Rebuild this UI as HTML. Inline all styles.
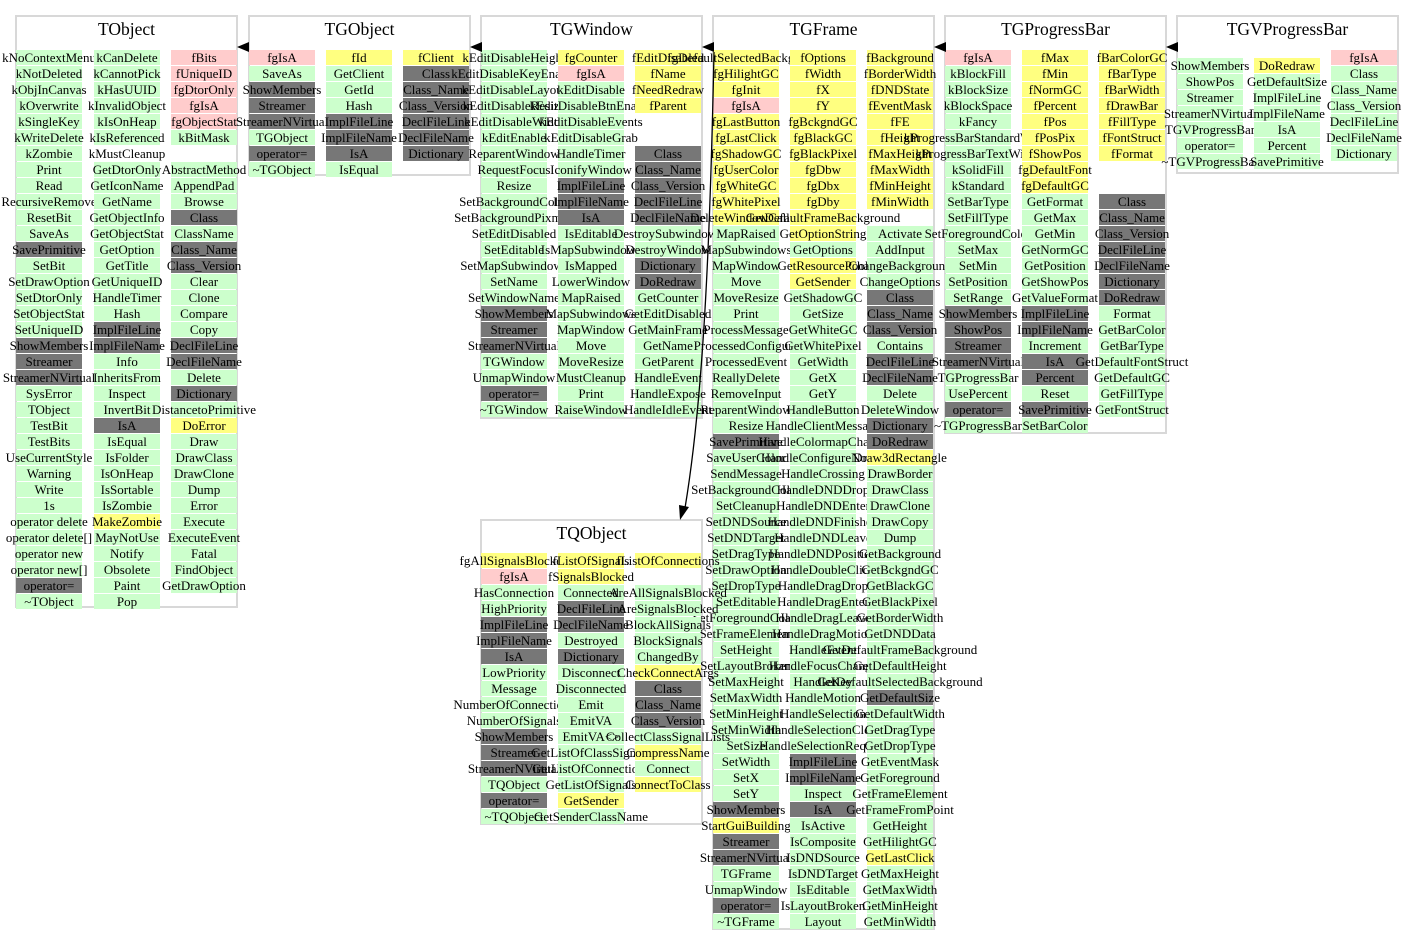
<!DOCTYPE html>
<html><head><meta charset="utf-8"><style>
body{margin:0;width:1413px;height:944px;background:#fff;position:relative;overflow:hidden;font-family:"Liberation Serif",serif}
.b{position:absolute;border:2px solid #d8d8d8;box-sizing:border-box;width:223px}
.t{position:absolute;width:223px;text-align:center;font:17.5px "Liberation Serif",serif;color:#000}
.c{position:absolute;width:66px}
.c>div{height:15px;margin-bottom:1px;display:flex;justify-content:center;align-items:center;white-space:nowrap;font:13px/15px "Liberation Serif",serif;color:#000}
.g{background:#ccffcc}.p{background:#ffcccc}.y{background:#ffff80}.d{background:#777}
svg{position:absolute;left:0;top:0}
</style></head><body>

<div class="b" style="left:15px;top:15px;height:593px"></div><div class="t" style="left:15px;top:19px">TObject</div>
<div class="b" style="left:248px;top:15px;height:161px"></div><div class="t" style="left:248px;top:19px">TGObject</div>
<div class="b" style="left:480px;top:15px;height:404px"></div><div class="t" style="left:480px;top:19px">TGWindow</div>
<div class="b" style="left:712px;top:15px;height:915px"></div><div class="t" style="left:712px;top:19px">TGFrame</div>
<div class="b" style="left:944px;top:15px;height:419px"></div><div class="t" style="left:944px;top:19px">TGProgressBar</div>
<div class="b" style="left:1176px;top:15px;height:159px"></div><div class="t" style="left:1176px;top:19px">TGVProgressBar</div>
<div class="b" style="left:480px;top:519px;height:306px"></div><div class="t" style="left:480px;top:523px">TQObject</div>

<!-- TObject -->
<div class="c" style="left:16px;top:50px"><div class="g">kNoContextMenu</div><div class="g">kNotDeleted</div><div class="g">kObjInCanvas</div><div class="g">kOverwrite</div><div class="g">kSingleKey</div><div class="g">kWriteDelete</div><div class="g">kZombie</div><div class="g">Print</div><div class="g">Read</div><div class="g">RecursiveRemove</div><div class="g">ResetBit</div><div class="g">SaveAs</div><div class="d">SavePrimitive</div><div class="g">SetBit</div><div class="g">SetDrawOption</div><div class="g">SetDtorOnly</div><div class="g">SetObjectStat</div><div class="g">SetUniqueID</div><div class="d">ShowMembers</div><div class="d">Streamer</div><div class="d">StreamerNVirtual</div><div class="g">SysError</div><div class="g">TObject</div><div class="g">TestBit</div><div class="g">TestBits</div><div class="g">UseCurrentStyle</div><div class="g">Warning</div><div class="g">Write</div><div class="g">1s</div><div class="g">operator delete</div><div class="g">operator delete[]</div><div class="g">operator new</div><div class="g">operator new[]</div><div class="d">operator=</div><div class="g">~TObject</div></div>
<div class="c" style="left:94px;top:50px"><div class="g">kCanDelete</div><div class="g">kCannotPick</div><div class="g">kHasUUID</div><div class="g">kInvalidObject</div><div class="g">kIsOnHeap</div><div class="g">kIsReferenced</div><div>kMustCleanup</div><div class="g">GetDtorOnly</div><div class="g">GetIconName</div><div class="g">GetName</div><div class="g">GetObjectInfo</div><div class="g">GetObjectStat</div><div class="g">GetOption</div><div class="g">GetTitle</div><div class="g">GetUniqueID</div><div class="g">HandleTimer</div><div class="g">Hash</div><div class="d">ImplFileLine</div><div class="d">ImplFileName</div><div class="g">Info</div><div class="g">InheritsFrom</div><div class="g">Inspect</div><div class="g">InvertBit</div><div class="d">IsA</div><div class="g">IsEqual</div><div class="g">IsFolder</div><div class="g">IsOnHeap</div><div class="g">IsSortable</div><div class="g">IsZombie</div><div class="y">MakeZombie</div><div class="g">MayNotUse</div><div class="g">Notify</div><div class="g">Obsolete</div><div class="g">Paint</div><div class="g">Pop</div></div>
<div class="c" style="left:171px;top:50px"><div class="p">fBits</div><div class="p">fUniqueID</div><div class="p">fgDtorOnly</div><div class="p">fgIsA</div><div class="p">fgObjectStat</div><div class="g">kBitMask</div><div></div><div class="g">AbstractMethod</div><div class="g">AppendPad</div><div class="g">Browse</div><div class="d">Class</div><div class="g">ClassName</div><div class="d">Class_Name</div><div class="d">Class_Version</div><div class="g">Clear</div><div class="g">Clone</div><div class="g">Compare</div><div class="g">Copy</div><div class="d">DeclFileLine</div><div class="d">DeclFileName</div><div class="g">Delete</div><div class="d">Dictionary</div><div class="g">DistancetoPrimitive</div><div class="y">DoError</div><div class="g">Draw</div><div class="g">DrawClass</div><div class="g">DrawClone</div><div class="g">Dump</div><div class="g">Error</div><div class="g">Execute</div><div class="g">ExecuteEvent</div><div class="g">Fatal</div><div class="g">FindObject</div><div class="g">GetDrawOption</div></div>

<!-- TGObject -->
<div class="c" style="left:249px;top:50px"><div class="p">fgIsA</div><div class="g">SaveAs</div><div class="d">ShowMembers</div><div class="d">Streamer</div><div class="d">StreamerNVirtual</div><div class="g">TGObject</div><div class="d">operator=</div><div class="g">~TGObject</div></div>
<div class="c" style="left:326px;top:50px"><div class="y">fId</div><div class="g">GetClient</div><div class="g">GetId</div><div class="g">Hash</div><div class="d">ImplFileLine</div><div class="d">ImplFileName</div><div class="d">IsA</div><div class="g">IsEqual</div></div>
<div class="c" style="left:403px;top:50px"><div class="y">fClient</div><div class="d">Class</div><div class="d">Class_Name</div><div class="d">Class_Version</div><div class="d">DeclFileLine</div><div class="d">DeclFileName</div><div class="d">Dictionary</div></div>

<!-- TGWindow -->
<div class="c" style="left:481px;top:50px"><div class="g">kEditDisableHeight</div><div class="g">kEditDisableKeyEnable</div><div class="g">kEditDisableLayout</div><div class="g">kEditDisableResize</div><div class="g">kEditDisableWidth</div><div class="g">kEditEnable</div><div class="g">ReparentWindow</div><div class="g">RequestFocus</div><div class="g">Resize</div><div class="g">SetBackgroundColor</div><div class="g">SetBackgroundPixmap</div><div class="g">SetEditDisabled</div><div class="g">SetEditable</div><div class="g">SetMapSubwindows</div><div class="g">SetName</div><div class="g">SetWindowName</div><div class="d">ShowMembers</div><div class="d">Streamer</div><div class="d">StreamerNVirtual</div><div class="g">TGWindow</div><div class="g">UnmapWindow</div><div class="d">operator=</div><div class="g">~TGWindow</div></div>
<div class="c" style="left:558px;top:50px"><div class="y">fgCounter</div><div class="p">fgIsA</div><div class="g">kEditDisable</div><div class="g">kEditDisableBtnEnable</div><div class="g">kEditDisableEvents</div><div class="g">kEditDisableGrab</div><div class="g">HandleTimer</div><div class="g">IconifyWindow</div><div class="d">ImplFileLine</div><div class="d">ImplFileName</div><div class="d">IsA</div><div class="g">IsEditable</div><div class="g">IsMapSubwindows</div><div class="g">IsMapped</div><div class="g">LowerWindow</div><div class="g">MapRaised</div><div class="g">MapSubwindows</div><div class="g">MapWindow</div><div class="g">Move</div><div class="g">MoveResize</div><div class="g">MustCleanup</div><div class="g">Print</div><div class="g">RaiseWindow</div></div>
<div class="c" style="left:635px;top:50px"><div class="y">fEditDisabled</div><div class="y">fName</div><div class="y">fNeedRedraw</div><div class="y">fParent</div><div></div><div></div><div class="d">Class</div><div class="d">Class_Name</div><div class="d">Class_Version</div><div class="d">DeclFileLine</div><div class="d">DeclFileName</div><div class="g">DestroySubwindows</div><div class="g">DestroyWindow</div><div class="d">Dictionary</div><div class="d">DoRedraw</div><div class="g">GetCounter</div><div class="g">GetEditDisabled</div><div class="g">GetMainFrame</div><div class="g">GetName</div><div class="g">GetParent</div><div class="g">HandleEvent</div><div class="g">HandleExpose</div><div class="g">HandleIdleEvent</div></div>

<!-- TGFrame -->
<div class="c" style="left:713px;top:50px"><div class="y">fgDefaultSelectedBackground</div><div class="y">fgHilightGC</div><div class="y">fgInit</div><div class="p">fgIsA</div><div class="y">fgLastButton</div><div class="y">fgLastClick</div><div class="y">fgShadowGC</div><div class="y">fgUserColor</div><div class="y">fgWhiteGC</div><div class="y">fgWhitePixel</div><div class="y">DeleteWindowCalled</div><div class="g">MapRaised</div><div class="g">MapSubwindows</div><div class="g">MapWindow</div><div class="g">Move</div><div class="g">MoveResize</div><div class="g">Print</div><div class="g">ProcessMessage</div><div class="g">ProcessedConfigure</div><div class="g">ProcessedEvent</div><div class="g">ReallyDelete</div><div class="g">RemoveInput</div><div class="g">ReparentWindow</div><div class="g">Resize</div><div class="d">SavePrimitive</div><div class="g">SaveUserColor</div><div class="g">SendMessage</div><div class="g">SetBackgroundColor</div><div class="g">SetCleanup</div><div class="g">SetDNDSource</div><div class="g">SetDNDTarget</div><div class="g">SetDragType</div><div class="g">SetDrawOption</div><div class="g">SetDropType</div><div class="g">SetEditable</div><div class="g">SetForegroundColor</div><div class="g">SetFrameElement</div><div class="g">SetHeight</div><div class="g">SetLayoutBroken</div><div class="g">SetMaxHeight</div><div class="g">SetMaxWidth</div><div class="g">SetMinHeight</div><div class="g">SetMinWidth</div><div class="g">SetSize</div><div class="g">SetWidth</div><div class="g">SetX</div><div class="g">SetY</div><div class="d">ShowMembers</div><div class="y">StartGuiBuilding</div><div class="d">Streamer</div><div class="d">StreamerNVirtual</div><div class="g">TGFrame</div><div class="g">UnmapWindow</div><div class="d">operator=</div><div class="g">~TGFrame</div></div>
<div class="c" style="left:790px;top:50px"><div class="y">fOptions</div><div class="y">fWidth</div><div class="y">fX</div><div class="y">fY</div><div class="y">fgBckgndGC</div><div class="y">fgBlackGC</div><div class="y">fgBlackPixel</div><div class="y">fgDbw</div><div class="y">fgDbx</div><div class="y">fgDby</div><div class="y">GetDefaultFrameBackground</div><div class="y">GetOptionString</div><div class="g">GetOptions</div><div class="y">GetResourcePool</div><div class="y">GetSender</div><div class="g">GetShadowGC</div><div class="g">GetSize</div><div class="g">GetWhiteGC</div><div class="g">GetWhitePixel</div><div class="g">GetWidth</div><div class="g">GetX</div><div class="g">GetY</div><div class="g">HandleButton</div><div class="g">HandleClientMessage</div><div class="g">HandleColormapChange</div><div class="g">HandleConfigureNotify</div><div class="g">HandleCrossing</div><div class="g">HandleDNDDrop</div><div class="g">HandleDNDEnter</div><div class="g">HandleDNDFinished</div><div class="g">HandleDNDLeave</div><div class="g">HandleDNDPosition</div><div class="g">HandleDoubleClick</div><div class="g">HandleDragDrop</div><div class="g">HandleDragEnter</div><div class="g">HandleDragLeave</div><div class="g">HandleDragMotion</div><div class="g">HandleEvent</div><div class="g">HandleFocusChange</div><div class="g">HandleKey</div><div class="g">HandleMotion</div><div class="g">HandleSelection</div><div class="g">HandleSelectionClear</div><div class="g">HandleSelectionRequest</div><div class="d">ImplFileLine</div><div class="d">ImplFileName</div><div class="g">Inspect</div><div class="d">IsA</div><div class="g">IsActive</div><div class="g">IsComposite</div><div class="g">IsDNDSource</div><div class="g">IsDNDTarget</div><div class="g">IsEditable</div><div class="g">IsLayoutBroken</div><div class="g">Layout</div></div>
<div class="c" style="left:867px;top:50px"><div class="y">fBackground</div><div class="y">fBorderWidth</div><div class="y">fDNDState</div><div class="y">fEventMask</div><div class="y">fFE</div><div class="y">fHeight</div><div class="y">fMaxHeight</div><div class="y">fMaxWidth</div><div class="y">fMinHeight</div><div class="y">fMinWidth</div><div></div><div class="g">Activate</div><div class="g">AddInput</div><div class="g">ChangeBackground</div><div class="g">ChangeOptions</div><div class="d">Class</div><div class="d">Class_Name</div><div class="d">Class_Version</div><div class="g">Contains</div><div class="d">DeclFileLine</div><div class="d">DeclFileName</div><div class="g">Delete</div><div class="g">DeleteWindow</div><div class="d">Dictionary</div><div class="d">DoRedraw</div><div class="y">Draw3dRectangle</div><div class="g">DrawBorder</div><div class="g">DrawClass</div><div class="g">DrawClone</div><div class="g">DrawCopy</div><div class="g">Dump</div><div class="g">GetBackground</div><div class="g">GetBckgndGC</div><div class="g">GetBlackGC</div><div class="g">GetBlackPixel</div><div class="g">GetBorderWidth</div><div class="g">GetDNDData</div><div class="g">GetDefaultFrameBackground</div><div class="g">GetDefaultHeight</div><div class="g">GetDefaultSelectedBackground</div><div class="d">GetDefaultSize</div><div class="g">GetDefaultWidth</div><div class="g">GetDragType</div><div class="g">GetDropType</div><div class="g">GetEventMask</div><div class="g">GetForeground</div><div class="g">GetFrameElement</div><div class="g">GetFrameFromPoint</div><div class="g">GetHeight</div><div class="g">GetHilightGC</div><div class="y">GetLastClick</div><div class="g">GetMaxHeight</div><div class="g">GetMaxWidth</div><div class="g">GetMinHeight</div><div class="g">GetMinWidth</div></div>

<!-- TGProgressBar -->
<div class="c" style="left:945px;top:50px"><div class="p">fgIsA</div><div class="g">kBlockFill</div><div class="g">kBlockSize</div><div class="g">kBlockSpace</div><div class="g">kFancy</div><div class="g">kProgressBarStandardWidth</div><div class="g">kProgressBarTextWidth</div><div class="g">kSolidFill</div><div class="g">kStandard</div><div class="g">SetBarType</div><div class="g">SetFillType</div><div class="g">SetForegroundColor</div><div class="g">SetMax</div><div class="g">SetMin</div><div class="g">SetPosition</div><div class="g">SetRange</div><div class="d">ShowMembers</div><div class="d">ShowPos</div><div class="d">Streamer</div><div class="d">StreamerNVirtual</div><div class="g">TGProgressBar</div><div class="g">UsePercent</div><div class="d">operator=</div><div class="g">~TGProgressBar</div></div>
<div class="c" style="left:1022px;top:50px"><div class="y">fMax</div><div class="y">fMin</div><div class="y">fNormGC</div><div class="y">fPercent</div><div class="y">fPos</div><div class="y">fPosPix</div><div class="y">fShowPos</div><div class="y">fgDefaultFont</div><div class="y">fgDefaultGC</div><div class="g">GetFormat</div><div class="g">GetMax</div><div class="g">GetMin</div><div class="g">GetNormGC</div><div class="g">GetPosition</div><div class="g">GetShowPos</div><div class="g">GetValueFormat</div><div class="d">ImplFileLine</div><div class="d">ImplFileName</div><div class="g">Increment</div><div class="d">IsA</div><div class="d">Percent</div><div class="g">Reset</div><div class="d">SavePrimitive</div><div class="g">SetBarColor</div></div>
<div class="c" style="left:1099px;top:50px"><div class="y">fBarColorGC</div><div class="y">fBarType</div><div class="y">fBarWidth</div><div class="y">fDrawBar</div><div class="y">fFillType</div><div class="y">fFontStruct</div><div class="y">fFormat</div><div></div><div></div><div class="d">Class</div><div class="d">Class_Name</div><div class="d">Class_Version</div><div class="d">DeclFileLine</div><div class="d">DeclFileName</div><div class="d">Dictionary</div><div class="d">DoRedraw</div><div class="g">Format</div><div class="g">GetBarColor</div><div class="g">GetBarType</div><div class="g">GetDefaultFontStruct</div><div class="g">GetDefaultGC</div><div class="g">GetFillType</div><div class="g">GetFontStruct</div></div>

<!-- TGVProgressBar -->
<div class="c" style="left:1177px;top:58px"><div class="g">ShowMembers</div><div class="g">ShowPos</div><div class="g">Streamer</div><div class="g">StreamerNVirtual</div><div class="g">TGVProgressBar</div><div class="g">operator=</div><div class="g">~TGVProgressBar</div></div>
<div class="c" style="left:1254px;top:58px"><div class="y">DoRedraw</div><div class="g">GetDefaultSize</div><div class="g">ImplFileLine</div><div class="g">ImplFileName</div><div class="g">IsA</div><div class="g">Percent</div><div class="g">SavePrimitive</div></div>
<div class="c" style="left:1331px;top:50px"><div class="p">fgIsA</div><div class="g">Class</div><div class="g">Class_Name</div><div class="g">Class_Version</div><div class="g">DeclFileLine</div><div class="g">DeclFileName</div><div class="g">Dictionary</div></div>

<!-- TQObject -->
<div class="c" style="left:481px;top:553px"><div class="y">fgAllSignalsBlocked</div><div class="p">fgIsA</div><div class="g">HasConnection</div><div class="g">HighPriority</div><div class="d">ImplFileLine</div><div class="d">ImplFileName</div><div class="d">IsA</div><div class="g">LowPriority</div><div class="g">Message</div><div class="g">NumberOfConnections</div><div class="g">NumberOfSignals</div><div class="d">ShowMembers</div><div class="d">Streamer</div><div class="d">StreamerNVirtual</div><div class="g">TQObject</div><div class="d">operator=</div><div class="g">~TQObject</div></div>
<div class="c" style="left:558px;top:553px"><div class="y">fListOfSignals</div><div class="y">fSignalsBlocked</div><div class="g">Connected</div><div class="d">DeclFileLine</div><div class="d">DeclFileName</div><div class="g">Destroyed</div><div class="d">Dictionary</div><div class="g">Disconnect</div><div class="g">Disconnected</div><div class="g">Emit</div><div class="g">EmitVA</div><div class="g">EmitVA&lt;&gt;</div><div class="g">GetListOfClassSignals</div><div class="g">GetListOfConnections</div><div class="g">GetListOfSignals</div><div class="y">GetSender</div><div class="g">GetSenderClassName</div></div>
<div class="c" style="left:635px;top:553px"><div class="y">fListOfConnections</div><div></div><div class="g">AreAllSignalsBlocked</div><div class="g">AreSignalsBlocked</div><div class="g">BlockAllSignals</div><div class="g">BlockSignals</div><div class="g">ChangedBy</div><div class="y">CheckConnectArgs</div><div class="d">Class</div><div class="d">Class_Name</div><div class="d">Class_Version</div><div class="g">CollectClassSignalLists</div><div class="y">CompressName</div><div class="g">Connect</div><div class="y">ConnectToClass</div></div>

<svg width="1413" height="944" viewBox="0 0 1413 944">
<polygon points="237,47 249,42 249,52" fill="#000"/>
<polygon points="470,47 482,42 482,52" fill="#000"/>
<polygon points="702,47 714,42 714,52" fill="#000"/>
<polygon points="934,47 946,42 946,52" fill="#000"/>
<polygon points="1166,47 1178,42 1178,52" fill="#000"/>
<path d="M714,52 C710,250 703,400 685,508" fill="none" stroke="#000" stroke-width="1.3"/>
<polygon points="680,520 679,505 689,507" fill="#000"/>
</svg>
</body></html>
